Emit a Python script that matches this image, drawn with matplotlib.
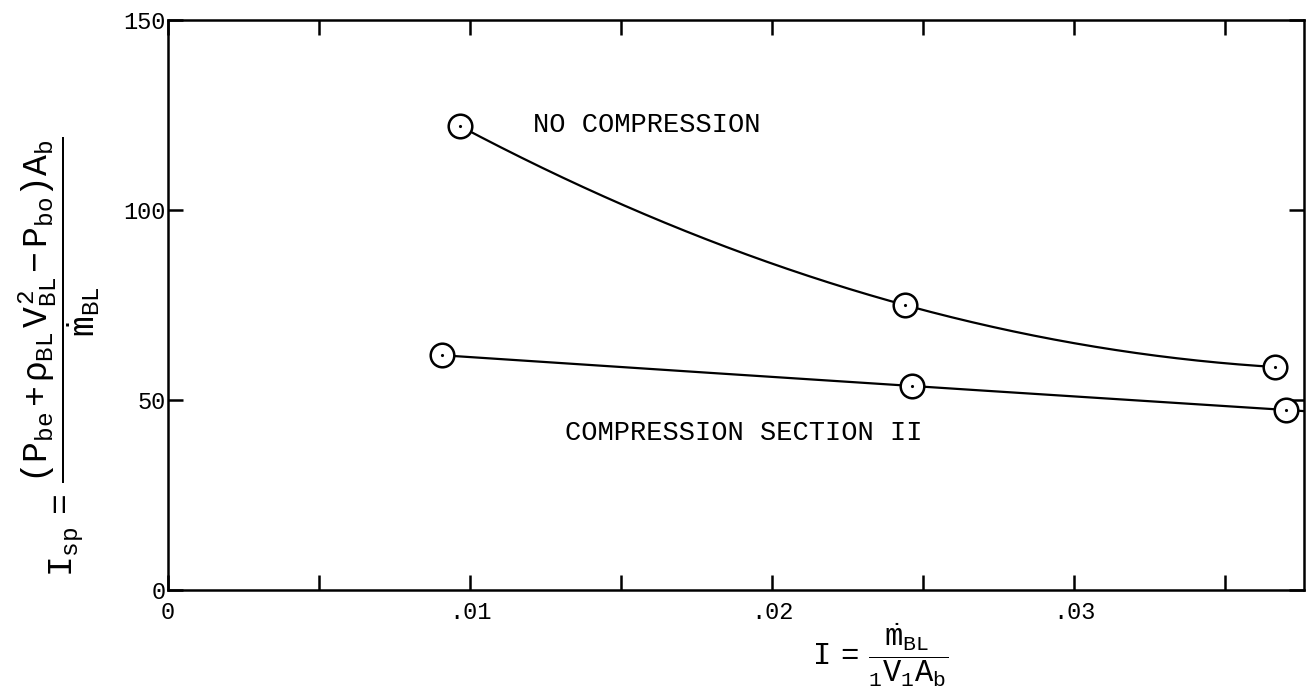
import matplotlib.pyplot as plt
import numpy as np

plt.rcParams['font.family'] = 'Liberation Mono'
plt.rcParams['mathtext.fontset'] = 'custom'
for key in ['rm', 'it', 'sf', 'tt']:
    plt.rcParams['mathtext.' + key] = 'Liberation Mono'
plt.rcParams['mathtext.bf'] = 'Liberation Mono:bold'

# measured points
x_nocomp = [0.00967, 0.0244, 0.03666]
y_nocomp = [122.1, 75.0, 58.7]
x_comp = [0.00907, 0.02464, 0.0370]
y_comp = [61.8, 53.7, 47.4]

xticks = [0, 0.005, 0.01, 0.015, 0.02, 0.025, 0.03, 0.035]
xticklabels = ['0', '', '.01', '', '.02', '', '.03', '']
yticks = [0, 50, 100, 150]
yticklabels = ['0', '50', '100', '150']

fig = plt.figure(figsize=(13.13, 6.99), dpi=100)
ax = fig.add_axes([0.128, 0.156, 0.865, 0.815])

# smooth curves through the three points of each series
c1 = np.polyfit(x_nocomp, y_nocomp, 2)
xs1 = np.linspace(x_nocomp[0], x_nocomp[-1], 200)
ax.plot(xs1, np.polyval(c1, xs1), color='black', lw=1.6, zorder=2)

c2 = np.polyfit(x_comp, y_comp, 2)
xs2 = np.linspace(x_comp[0], 0.0376, 200)
ax.plot(xs2, np.polyval(c2, xs2), color='black', lw=1.6, zorder=2)

for xx, yy in [(x_nocomp, y_nocomp), (x_comp, y_comp)]:
    ax.plot(xx, yy, 'o', ms=17, mfc='white', mec='black', mew=1.8, ls='none', zorder=3)
    ax.plot(xx, yy, '.', ms=2.5, color='black', ls='none', zorder=4)

ax.text(0.01209, 122.4, 'NO COMPRESSION', fontsize=19.5, va='center', ha='left')
ax.text(0.01315, 41.3, 'COMPRESSION SECTION II', fontsize=19.5, va='center', ha='left')

ax.set_xlim(0, 0.0376)
ax.set_ylim(0, 150)
ax.set_xticks(xticks)
ax.set_xticklabels(xticklabels)
ax.set_yticks(yticks)
ax.set_yticklabels(yticklabels)
ax.tick_params(direction='in', length=11, width=1.8, labelsize=17,
               top=True, right=True, pad=8)
ax.tick_params(axis='y', pad=2)
for s in ax.spines.values():
    s.set_linewidth(1.8)

# axis labels
fig.text(0.045, 0.49,
         r'$I_{sp}\ =\ \dfrac{(P_{be}+\rho_{BL}\,V_{BL}^2 - P_{bo})A_b}{\dot{m}_{BL}}$',
         rotation=90, fontsize=25, ha='center', va='center')
fig.text(0.670, 0.062, r'$I\ =\ \dfrac{\dot{m}_{BL}}{{}_1V_1A_b}$',
         fontsize=22, ha='center', va='center')

plt.savefig('out.png', dpi=100)
